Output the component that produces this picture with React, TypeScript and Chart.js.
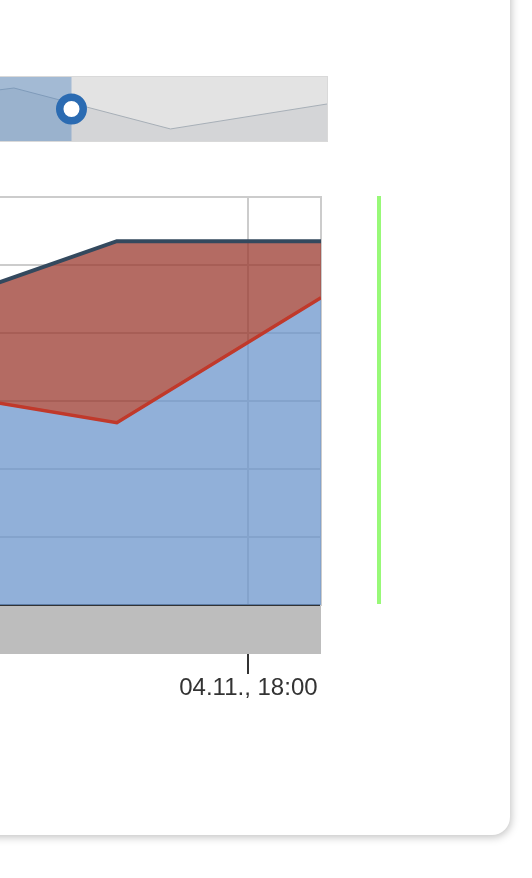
import React, { useEffect, useRef } from "react";
import { Chart, registerables } from "chart.js";

Chart.register(...registerables);

// ---- data (hours since 04.11. 00:00) ----
const times = [13.0667, 16.0667, 19.0667];
const lowerSeries = [31.8, 26.8, 45.2];
const upperSeries = [11.2, 26.7, 8.3];
const tickHours = [18];
const viewStart = 14.35;

const navTimes = [10.0667, 13.0667, 16.0667, 19.0667];
const navValues = [51.6, 82.8, 18.8, 57.8];
const navSelectionEnd = 14.17;

const FONT = '"Liberation Sans", Arial, Helvetica, sans-serif';

function fmtTick(v: number) {
  const d = 4 + Math.floor(v / 24);
  const h = Math.round(v % 24);
  return `${String(d).padStart(2, "0")}.11., ${String(h).padStart(2, "0")}:00`;
}

const bandPlugin = {
  id: "band",
  afterDraw(chart: any) {
    const { ctx, chartArea } = chart;
    ctx.save();
    ctx.fillStyle = "#bdbdbd";
    ctx.fillRect(chartArea.left, chartArea.bottom + 1, chartArea.right - chartArea.left, 48);
    ctx.restore();
  },
};

const navPlugin = {
  id: "nav",
  beforeDatasetsDraw(chart: any) {
    const { ctx, chartArea } = chart;
    ctx.save();
    ctx.fillStyle = "#e3e3e3";
    ctx.fillRect(chartArea.left, chartArea.top, chartArea.right - chartArea.left, chartArea.bottom - chartArea.top);
    ctx.restore();
  },
  afterDraw(chart: any) {
    const { ctx, chartArea, scales } = chart;
    const xe = scales.x.getPixelForValue(navSelectionEnd);
    ctx.save();
    ctx.fillStyle = "rgba(67,125,190,0.4)";
    ctx.fillRect(chartArea.left, chartArea.top, xe - chartArea.left, chartArea.bottom - chartArea.top);
    ctx.strokeStyle = "#d9d9d9";
    ctx.lineWidth = 1;
    ctx.strokeRect(chartArea.left - 10, chartArea.top - 0.5, chartArea.right - chartArea.left + 10.5, chartArea.bottom - chartArea.top + 1);
    const cy = (chartArea.top + chartArea.bottom) / 2;
    ctx.beginPath();
    ctx.arc(xe, cy, 11.75, 0, Math.PI * 2);
    ctx.fillStyle = "#ffffff";
    ctx.fill();
    ctx.lineWidth = 7.5;
    ctx.strokeStyle = "#2b6bb2";
    ctx.stroke();
    ctx.restore();
  },
};

export default function App() {
  const mainRef = useRef<HTMLCanvasElement>(null);
  const navRef = useRef<HTMLCanvasElement>(null);

  useEffect(() => {
    const main = new Chart(mainRef.current!, {
      type: "line",
      data: {
        datasets: [
          {
            label: "lower",
            data: times.map((t, i) => ({ x: t, y: lowerSeries[i] })),
            borderColor: "#c0392b",
            backgroundColor: "rgba(108,150,204,0.75)",
            fill: "origin",
            borderWidth: 3.5,
            pointRadius: 0,
            tension: 0,
          },
          {
            label: "upper",
            data: times.map((t, i) => ({ x: t, y: upperSeries[i] })),
            borderColor: "#34495e",
            backgroundColor: "rgba(155,58,47,0.75)",
            fill: "-1",
            borderWidth: 4,
            pointRadius: 0,
            tension: 0,
          },
        ],
      },
      options: {
        animation: false,
        responsive: false,
        devicePixelRatio: 1,
        layout: { padding: { left: 0, top: 197, right: 211, bottom: 173 } },
        plugins: { legend: { display: false }, tooltip: { enabled: false } },
        scales: {
          x: {
            type: "linear",
            min: viewStart,
            max: times[times.length - 1],
            afterBuildTicks: (s: any) => {
              s.ticks = tickHours.map((v) => ({ value: v }));
            },
            afterFit: (s: any) => {
              s.height = 100;
            },
            ticks: {
              callback: (v: any) => fmtTick(Number(v)),
              font: { family: FONT, size: 24 },
              color: "#333333",
              padding: 0,
              maxRotation: 0,
              autoSkip: false,
            },
            grid: { color: "#cccccc", lineWidth: 2, tickColor: "#333333", tickLength: 69, tickWidth: 2 },
            border: { color: "#333333", width: 2 },
          },
          y: {
            position: "right",
            stacked: true,
            min: 0,
            max: 60,
            ticks: { display: false, stepSize: 10 },
            grid: { color: "#cccccc", lineWidth: 2, drawTicks: false },
            border: { color: "#cccccc", width: 2 },
            afterFit: (s: any) => {
              s.width = 0;
            },
          },
        },
      },
      plugins: [bandPlugin],
    } as any);

    const nav = new Chart(navRef.current!, {
      type: "line",
      data: {
        datasets: [
          {
            data: navTimes.map((t, i) => ({ x: t, y: navValues[i] })),
            borderColor: "#a7afb7",
            backgroundColor: "#d4d5d7",
            fill: "origin",
            borderWidth: 1,
            pointRadius: 0,
            tension: 0,
          },
        ],
      },
      options: {
        animation: false,
        responsive: false,
        devicePixelRatio: 1,
        layout: { padding: { left: 0, top: 77, right: 205, bottom: 59 } },
        plugins: { legend: { display: false }, tooltip: { enabled: false } },
        scales: {
          x: { type: "linear", display: false, min: 12.8, max: navTimes[navTimes.length - 1] },
          y: { display: false, min: 0, max: 100 },
        },
      },
      plugins: [navPlugin],
    } as any);

    return () => {
      main.destroy();
      nav.destroy();
    };
  }, []);

  return (
    <div style={{ position: "absolute", left: 0, top: 0, width: 532, height: 878, overflow: "hidden", background: "#ffffff" }}>
      <div
        style={{
          position: "absolute",
          left: -40,
          top: -40,
          width: 550,
          height: 875,
          background: "#ffffff",
          borderRadius: 18,
          boxShadow: "1px 2px 8px rgba(0,0,0,0.25)",
        }}
      />
      <canvas ref={navRef} width={532} height={200} style={{ position: "absolute", left: 0, top: 0, width: 532, height: 200 }} />
      <canvas ref={mainRef} width={532} height={878} style={{ position: "absolute", left: 0, top: 0, width: 532, height: 878 }} />
      <div style={{ position: "absolute", left: 377, top: 196, width: 4, height: 408, background: "#98f978" }} />
    </div>
  );
}
